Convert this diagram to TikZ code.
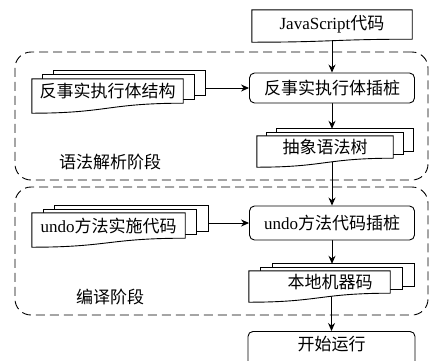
\documentclass[tikz,border=0pt]{standalone}
\usepackage{fontspec}
\setmainfont{Liberation Serif}
\newfontfamily\cjk{Noto Sans CJK SC}
\usetikzlibrary{calc,arrows.meta}
\pgfdeclarelayer{links}
\pgfdeclarelayer{docs}
\pgfsetlayers{links,docs,main}

% document shape: node, wave depth
\newcommand\docfront[2]{%
  \draw[docline] (#1.north west) -- (#1.north east) -- (#1.south east)
    .. controls ($(#1.south east)!0.5!(#1.south west)$) and ($(#1.south west)!0.5!(#1.south east)+(0,#2)$) .. ($(#1.south west)+(0,#2)$) -- cycle;}
% stacked documents: node, dx, dy, wave depth
\newcommand\docstack[4]{%
  \foreach \k in {2,1}
    \draw[docline] ($(#1.north west)+(\k*#2,-\k*#3)$) rectangle ($(#1.south east)+(\k*#2,-\k*#3)$);
  \docfront{#1}{#4}}

\begin{document}
\begin{tikzpicture}[x=1pt, y=-1pt, >={Stealth[length=8pt,width=7pt]},
  every node/.style={font=\fontsize{17}{20}\selectfont, inner sep=2pt},
  docline/.style={draw, line width=0.9pt, fill=white},
  docbox/.style={inner sep=2pt},
  task/.style={draw, rounded corners=5pt, line width=0.9pt, fill=white, minimum width=165pt, minimum height=30pt},
  phase/.style={draw, dash pattern=on 9pt off 5pt, rounded corners=16pt, line width=0.9pt, minimum width=413pt, minimum height=128pt},
  link/.style={->, line width=0.9pt}]
\useasboundingbox (0,0) rectangle (430,360);

% phases
\node[phase] (parse) at (221.5,116) {};
\node[phase] (compile) at (221.5,251) {};
\node (parselabel) at (110,162) {\cjk 语法解析阶段};
\node (compilelabel) at (110,297) {\cjk 编译阶段};

% documents
\node[docbox, minimum width=160pt, minimum height=29pt] (js) at (332,24.5) {JavaScript\cjk 代码};
\node[docbox, minimum width=151pt, minimum height=24pt] (struct) at (107.5,91) {\cjk 反事实执行体结构};
\node[docbox, minimum width=136pt, minimum height=22pt] (ast) at (325,147) {\cjk 抽象语法树};
\node[docbox, minimum width=153pt, minimum height=25pt] (impl) at (108.5,225.5) {undo\cjk 方法实施代码};
\node[docbox, minimum width=141pt, minimum height=22pt] (mc) at (319.5,282) {\hspace*{21pt}\cjk 本地机器码};

% steps
\node[task] (ins) at (332,88) {\cjk 反事实执行体插桩};
\node[task, minimum height=34pt] (undo) at (332,223) {undo\cjk 方法代码插桩};
\node[task, minimum width=167pt, anchor=north, text height=17pt, text depth=20pt, inner ysep=2pt] (run) at (331.5,331) {\cjk 开始运行};

\begin{pgfonlayer}{docs}
\docfront{js}{3}
\docstack{struct}{11}{4}{10}
\docstack{ast}{10}{3.5}{9}
\docstack{impl}{11.5}{3.5}{9}
\docstack{mc}{12}{3.5}{9}
\end{pgfonlayer}

\begin{pgfonlayer}{links}
\draw[link] (js) -- (ins);
\draw[link] (struct.east |- ins.west) -- (ins.west);
\draw[link] (ins) -- ($(ins.south |- ast.north)+(0,-7)$);
\draw[link] (ast.south -| undo.north) -- (undo);
\draw[link] (impl.east |- undo.west) -- (undo.west);
\draw[link] (undo) -- ($(undo.south |- mc.north)+(0,-7)$);
\draw[link] (mc.south -| run.north) -- (run);
\end{pgfonlayer}
\end{tikzpicture}
\end{document}
